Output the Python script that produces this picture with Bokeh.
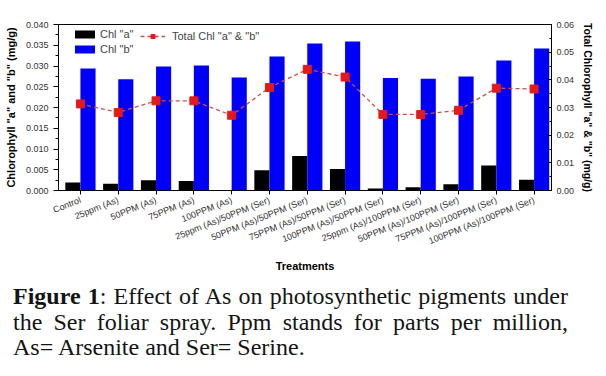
import numpy as np
from bokeh.plotting import figure
from bokeh.models import (Range1d, LinearAxis, FixedTicker, NumeralTickFormatter,
                          Legend, LegendItem, ColumnDataSource, Div)
from bokeh.layouts import column
from bokeh.transform import dodge
from bokeh.embed import file_html
from bokeh.resources import INLINE

# ---------------- data ----------------
treatments = ["Control", "25ppm (As)", "50PPM (As)", "75PPM (As)", "100PPM (As)",
              "25ppm (As)/50PPM (Ser)", "50PPM (As)/50PPM (Ser)", "75PPM (As)/50PPM (Ser)",
              "100PPM (As)/50PPM (Ser)", "25ppm (As)/100PPM (Ser)", "50PPM (As)/100PPM (Ser)",
              "75PPM (As)/100PPM (Ser)", "100PPM (As)/100PPM (Ser)"]
chl_a = [0.0019, 0.0016, 0.0025, 0.0023, 0.0, 0.0049, 0.0083, 0.0052,
         0.0005, 0.0008, 0.0015, 0.0060, 0.0026]
chl_b = [0.0294, 0.0268, 0.0299, 0.0301, 0.0272, 0.0323, 0.0354, 0.0359,
         0.0271, 0.0269, 0.0275, 0.0313, 0.0342]
total = [0.0313, 0.0282, 0.0324, 0.0324, 0.0272, 0.0372, 0.0438, 0.0410,
         0.0275, 0.0275, 0.0290, 0.0370, 0.0367]
left_ticks = [0.0, 0.005, 0.010, 0.015, 0.020, 0.025, 0.030, 0.035, 0.040]
right_ticks = [0.0, 0.01, 0.02, 0.03, 0.04, 0.05, 0.06]

caption_bold = "Figure 1"
caption_line1 = ": Effect of As on photosynthetic pigments under"
caption_line2 = "the Ser foliar spray. Ppm stands for parts per million,"
caption_line3 = "As= Arsenite and Ser= Serine."

FONT = "Liberation Sans"
SERIF = "Liberation Serif"

idx = list(range(len(treatments)))
src = ColumnDataSource(dict(x=idx, a=chl_a, b=chl_b, t=total))

p = figure(width=606, height=282, x_range=Range1d(-0.58, 12.46), y_range=Range1d(0, 0.04),
           output_backend="svg", toolbar_location=None,
           min_border_left=58, min_border_right=55, min_border_top=24, min_border_bottom=92)
p.xgrid.visible = False
p.ygrid.visible = False
p.outline_line_color = "black"
p.outline_line_width = 1
p.background_fill_color = "white"
p.border_fill_color = "white"

ra = p.vbar(x=dodge("x", -0.2, range=p.x_range), top="a", width=0.4, source=src,
            fill_color="black", line_color=None)
rb = p.vbar(x=dodge("x", 0.2, range=p.x_range), top="b", width=0.4, source=src,
            fill_color="#0000f8", line_color=None)

p.extra_y_ranges = {"tot": Range1d(0, 0.06)}
rl = p.line("x", "t", source=src, y_range_name="tot", line_color="#c8504a",
            line_dash="4 3", line_width=1.3)
rm = p.scatter("x", "t", source=src, y_range_name="tot", marker="square", size=8,
               fill_color="#e41a1a", line_color="#e41a1a")

# left axis
ya = p.left[0]
ya.ticker = FixedTicker(ticks=left_ticks,
                        minor_ticks=[v + 0.0025 for v in left_ticks[:-1]])
ya.formatter = NumeralTickFormatter(format="0.000")
ya.axis_label = 'Chlorophyll "a" and "b" (mg/g)'

# right axis
yr = LinearAxis(y_range_name="tot")
yr.ticker = FixedTicker(ticks=right_ticks,
                        minor_ticks=[v + 0.005 for v in right_ticks[:-1]])
yr.formatter = NumeralTickFormatter(format="0.00")
yr.axis_label = 'Total Chlorophyll "a" & "b" (mg/g)'
p.add_layout(yr, "right")

# bottom axis
xa = p.below[0]
xa.ticker = FixedTicker(ticks=idx, minor_ticks=[])
xa.major_label_overrides = {i: t for i, t in enumerate(treatments)}
xa.major_label_orientation = 0.38
xa.axis_label = "Treatments"

for ax in (ya, yr, xa):
    ax.axis_line_color = "black"
    ax.major_tick_line_color = "black"
    ax.minor_tick_line_color = "black"
    ax.major_label_text_font = FONT
    ax.major_label_text_color = "#333333"
    ax.axis_label_text_font = FONT
    ax.axis_label_text_font_style = "bold"
    ax.axis_label_text_font_size = "11px"
    ax.axis_label_text_color = "black"

yr.axis_label_text_font_size = "10.5px"
ya.major_label_text_font_size = "9px"
yr.major_label_text_font_size = "9px"
xa.major_label_text_font_size = "9px"
ya.major_tick_out, ya.major_tick_in, ya.minor_tick_out, ya.minor_tick_in = 5, 0, 3, 0
yr.major_tick_out, yr.major_tick_in, yr.minor_tick_out, yr.minor_tick_in = 0, 4, 0, 2
xa.major_tick_out, xa.major_tick_in = 4, 0
ya.axis_label_standoff = 6
yr.axis_label_standoff = 5
xa.axis_label_standoff = 6
yr.major_label_standoff = 5


def make_legend(items, loc, standoff):
    return Legend(items=items, location=loc, glyph_width=25, glyph_height=10,
                  label_height=10, spacing=3, padding=0, margin=0,
                  border_line_color=None, background_fill_alpha=0,
                  label_text_font=FONT, label_text_font_size="11px",
                  label_standoff=standoff)


leg1 = make_legend([LegendItem(label='Chl "a"', renderers=[ra]),
                    LegendItem(label='Chl "b"', renderers=[rb])], (14, 135), 3)
leg2 = make_legend([LegendItem(label='Total Chl "a" & "b"', renderers=[rl, rm])], (82, 148), 7)
p.add_layout(leg1, "center")
p.add_layout(leg2, "center")

# ---------------- caption ----------------
just = "text-align:justify;text-align-last:justify;width:555px;white-space:nowrap;"
html = (f'<div style="{just}"><b>{caption_bold}</b>{caption_line1}</div>'
        f'<div style="{just}">{caption_line2}</div>'
        f'<div style="width:555px;white-space:nowrap;">{caption_line3}</div>')
cap = Div(text=html, width=606, height=94, margin=(0, 0, 0, 0),
          styles={"font-family": SERIF, "font-size": "24px", "line-height": "25.5px",
                  "color": "#141414", "padding-left": "13px", "padding-top": "2px",
                  "box-sizing": "border-box", "background-color": "white"})

layout = column(p, cap, spacing=0)
open("out.html", "w").write(file_html(layout, INLINE))
